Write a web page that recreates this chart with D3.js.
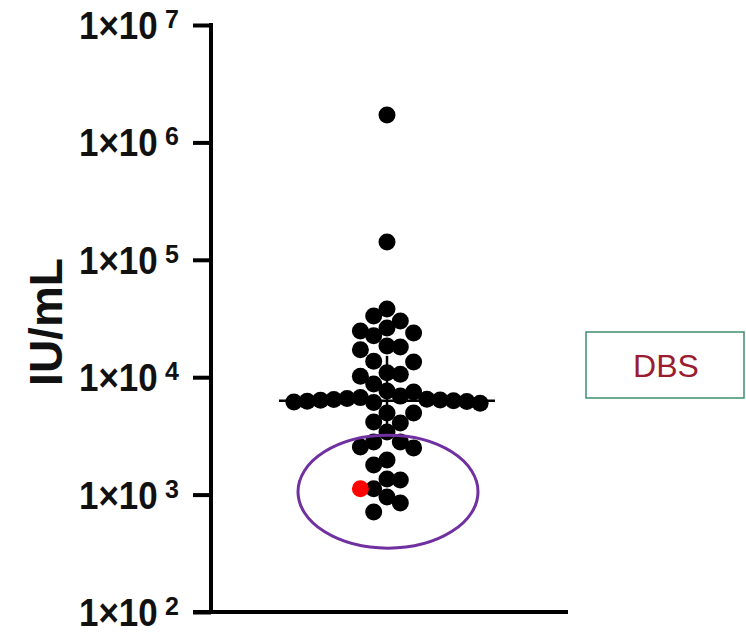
<!DOCTYPE html>
<html><head><meta charset="utf-8">
<script src="https://cdn.jsdelivr.net/npm/d3@7"></script>
<style>html,body{margin:0;padding:0;background:#fff;} svg{display:block;}</style>
</head><body>
<svg id="chart" width="746" height="634"></svg>
<script>
// ---- data ----
const categories = ["DBS"];
const values = [
  1710000, 142000,
  38100, 33200, 30100, 26200, 24800, 23800, 22500,
  18400, 18100, 17100, 13700, 13500,
  10900, 10600, 10200, 8750, 7630, 7480,
  6900, 6700, 6600, 6500, 6450, 6400, 6350, 6300, 6250, 6200, 6150, 6100, 6000,
  4950, 4950, 4150, 4070, 3410, 2800, 2800, 2540, 2500,
  1970, 1790, 1360, 1330, 1120, 955, 848, 711
];
const highlightValues = [1120];
const medianValue = [6300];
const iqrValues = [3550, 15200];
const tickValues = [1e2, 1e3, 1e4, 1e5, 1e6, 1e7];
const tickMantissa = ["1×10", "1×10", "1×10", "1×10", "1×10", "1×10"];
const tickExponents = ["2", "3", "4", "5", "6", "7"];
const yAxisTitle = "IU/mL";
const boxLabel = "DBS";
const circledRange = [350, 3200];

// ---- layout ----
const svg = d3.select("#chart");
const mLeft = 211, mRight = 568, mTop = 25, mBottom = 612;

const y = d3.scaleLog().domain([1e2, 1e7]).range([mBottom, mTop]);
const x = d3.scalePoint().domain(categories).range([mLeft, mRight]).align(0.493);
const cx = x(categories[0]);

// axes
const yAxis = d3.axisLeft(y).tickValues(tickValues).tickFormat("").tickSize(18).tickSizeOuter(0);
const gy = svg.append("g").attr("transform", `translate(${mLeft},0)`).call(yAxis);
gy.selectAll("path,line").attr("stroke", "#000").attr("stroke-width", 4);
gy.select("path").attr("d", `M0,${mTop - 2}V${mBottom + 2}`);

const xAxis = d3.axisBottom(x).tickValues([]).tickSizeOuter(0);
const gx = svg.append("g").attr("transform", `translate(0,${mBottom})`).call(xAxis);
gx.select("path").attr("stroke", "#000").attr("stroke-width", 4).attr("d", `M${mLeft - 18},0H${mRight}`);

// tick labels
tickValues.forEach((t, i) => {
  const ty = y(t);
  svg.append("text")
    .attr("transform", `translate(79,${ty + 14}) scale(0.92,1)`)
    .attr("font-family", "Liberation Sans, Arial, sans-serif")
    .attr("font-weight", "bold").attr("font-size", 38).attr("fill", "#111")
    .text(tickMantissa[i]);
  svg.append("text")
    .attr("x", 165).attr("y", ty + 3)
    .attr("font-family", "Liberation Sans, Arial, sans-serif")
    .attr("font-weight", "bold").attr("font-size", 25).attr("fill", "#111")
    .text(tickExponents[i]);
});

// y title
svg.append("text")
  .attr("transform", `translate(62,322) rotate(-90)`)
  .attr("text-anchor", "middle")
  .attr("font-family", "Liberation Sans, Arial, sans-serif")
  .attr("font-weight", "bold").attr("font-size", 46).attr("fill", "#111")
  .text(yAxisTitle);

// swarm layout: slot grid, points in the same slot must be vertically apart
const allPts = values.map(v => ({ v, hl: false })).concat(highlightValues.map(v => ({ v, hl: true })));
function swarm(pts, center, step, minDy) {
  const placed = [];
  const sorted = pts.slice().sort((a, b) => b.v - a.v);
  for (const p of sorted) {
    const py = y(p.v);
    for (let k = 0; k < 60; k++) {
      const off = k === 0 ? 0 : (k % 2 ? -Math.ceil(k / 2) : Math.ceil(k / 2));
      const px = center + off * step;
      if (placed.every(q => ((q.x - px) / step) ** 2 + ((q.y - py) / minDy) ** 2 >= 0.999)) {
        placed.push({ ...p, x: px, y: py });
        break;
      }
    }
  }
  return placed;
}
const pts = swarm(allPts, cx, 13.3, 18);

svg.append("g").selectAll("circle")
  .data(pts.filter(d => !d.hl))
  .join("circle")
  .attr("cx", d => d.x).attr("cy", d => d.y).attr("r", 8.5).attr("fill", "#000");

// median + IQR
svg.append("line")
  .attr("x1", cx).attr("x2", cx)
  .attr("y1", y(iqrValues[1])).attr("y2", y(iqrValues[0]))
  .attr("stroke", "#000").attr("stroke-width", 2.5);
svg.append("line")
  .attr("x1", cx - 108).attr("x2", cx + 108)
  .attr("y1", y(medianValue[0])).attr("y2", y(medianValue[0]))
  .attr("stroke", "#000").attr("stroke-width", 2.5);

svg.append("g").selectAll("circle")
  .data(pts.filter(d => d.hl))
  .join("circle")
  .attr("cx", d => d.x).attr("cy", d => d.y).attr("r", 8.5).attr("fill", "#ff0000");

// circled annotation
const ey1 = y(circledRange[1]), ey0 = y(circledRange[0]);
svg.append("ellipse")
  .attr("cx", cx + 1).attr("cy", (ey1 + ey0) / 2)
  .attr("rx", 90).attr("ry", (ey0 - ey1) / 2)
  .attr("fill", "none").attr("stroke", "#7030a0").attr("stroke-width", 3);

// DBS box
svg.append("rect")
  .attr("x", 586).attr("y", 332).attr("width", 158).attr("height", 66)
  .attr("fill", "#fff").attr("stroke", "#3f8f6e").attr("stroke-width", 1.5);
svg.append("text")
  .attr("x", 666).attr("y", 377)
  .attr("text-anchor", "middle")
  .attr("font-family", "Liberation Sans, sans-serif")
  .attr("font-size", 32).attr("fill", "#9b1b30")
  .text(boxLabel);
</script>
</body></html>
